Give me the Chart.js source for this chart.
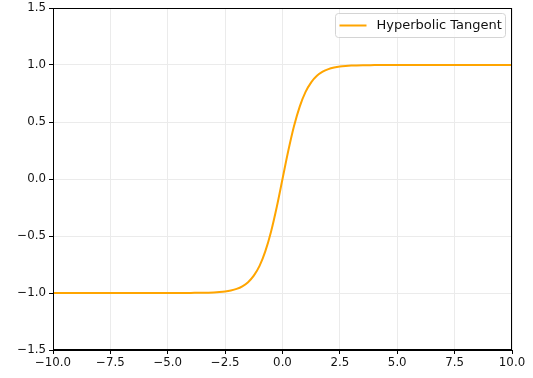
<!DOCTYPE html>
<html>
<head>
<meta charset="utf-8">
<script src="https://cdn.jsdelivr.net/npm/chart.js@4"></script>
<style>
  html, body { margin: 0; padding: 0; background: #fff; }
  #wrap { width: 533px; height: 378px; }
</style>
</head>
<body>
<div id="wrap"><canvas id="tanhChart" width="533" height="378"></canvas></div>
<script>
// ===== DỮ LIỆU =====
const xValues = [-10, -8, -6, -5, -4.5, -4, -3.5, -3, -2.75, -2.5, -2.25, -2, -1.75, -1.5, -1.25, -1,
  -0.75, -0.5, -0.25, 0, 0.25, 0.5, 0.75, 1, 1.25, 1.5, 1.75, 2, 2.25, 2.5, 2.75, 3, 3.5, 4, 4.5, 5, 6, 8, 10];
const yValues = [-1, -1, -1, -1, -1, -0.999, -0.998, -0.995, -0.992, -0.987, -0.978, -0.964, -0.941, -0.905, -0.848, -0.762,
  -0.635, -0.462, -0.245, 0, 0.245, 0.462, 0.635, 0.762, 0.848, 0.905, 0.941, 0.964, 0.978, 0.987, 0.992, 0.995, 0.998, 0.999, 1, 1, 1, 1, 1];
const xTicks = [-10, -7.5, -5, -2.5, 0, 2.5, 5, 7.5, 10];
const yTicks = [-1.5, -1, -0.5, 0, 0.5, 1, 1.5];
const seriesLabel = "Hyperbolic Tangent";

const FONT = "'DejaVu Sans', sans-serif";
const fmt = (v) => v.toFixed(1).replace("-", "\u2212");

// Viền 4 cạnh của vùng vẽ + hộp chú thích kiểu matplotlib
const framePlugin = {
  id: "frame",
  afterDraw(chart) {
    const { ctx, chartArea: a } = chart;
    ctx.save();
    ctx.strokeStyle = "#000";
    ctx.lineWidth = 1;
    ctx.strokeRect(Math.round(a.left) + 0.5, Math.round(a.top) + 0.5,
      Math.round(a.right - a.left) - 1, Math.round(a.bottom - a.top) - 1);

    // chú thích góc trên bên phải
    const ds = chart.data.datasets[0];
    const bx = a.right - 176.5, by = a.top + 5.5, bw = 170, bh = 24;
    ctx.fillStyle = "rgba(255,255,255,0.8)";
    ctx.strokeStyle = "#d4d4d4";
    ctx.beginPath();
    ctx.roundRect(bx, by, bw, bh, 3);
    ctx.fill();
    ctx.stroke();

    const midY = by + bh / 2;
    ctx.strokeStyle = ds.borderColor;
    ctx.lineWidth = 2;
    ctx.beginPath();
    ctx.moveTo(bx + 4, midY);
    ctx.lineTo(bx + 31, midY);
    ctx.stroke();

    ctx.fillStyle = "#111";
    ctx.font = "13px " + FONT;
    ctx.textBaseline = "middle";
    ctx.fillText(ds.label, bx + 41, midY + 0.5);
    ctx.restore();
  },
};

const ctx = document.getElementById("tanhChart").getContext("2d");
new Chart(ctx, {
  type: "line",
  data: {
    datasets: [{
      label: seriesLabel,
      data: xValues.map((x, i) => ({ x: x, y: yValues[i] })),
      borderColor: "#ffa500",
      backgroundColor: "#ffa500",
      borderWidth: 2,
      pointRadius: 0,
      cubicInterpolationMode: "monotone",
      fill: false,
    }],
  },
  options: {
    responsive: false,
    animation: false,
    layout: { padding: { left: 0, top: 8, right: 21, bottom: 0 } },
    plugins: {
      tooltip: { enabled: false },
      legend: { display: false },
    },
    scales: {
      x: {
        type: "linear",
        min: -10,
        max: 10,
        afterBuildTicks: (s) => { s.ticks = xTicks.map((v) => ({ value: v })); },
        afterFit: (s) => { s.height = 28; s.paddingLeft = 0; s.paddingRight = 0; },
        ticks: {
          font: { family: FONT, size: 11.8 },
          color: "#111",
          padding: 2,
          maxRotation: 0,
          callback: (v) => fmt(v),
        },
        grid: { color: "#ebebeb", lineWidth: 1, tickColor: "#000", tickLength: 4 },
        border: { color: "#000", width: 1 },
      },
      y: {
        type: "linear",
        min: -1.5,
        max: 1.5,
        afterBuildTicks: (s) => { s.ticks = yTicks.map((v) => ({ value: v })); },
        afterFit: (s) => { s.width = 53; s.paddingTop = 0; s.paddingBottom = 0; },
        ticks: {
          font: { family: FONT, size: 11.8 },
          color: "#111",
          padding: 3,
          callback: (v) => fmt(v),
        },
        grid: { color: "#ebebeb", lineWidth: 1, tickColor: "#000", tickLength: 4 },
        border: { color: "#000", width: 1 },
      },
    },
  },
  plugins: [framePlugin],
});
</script>
</body>
</html>
